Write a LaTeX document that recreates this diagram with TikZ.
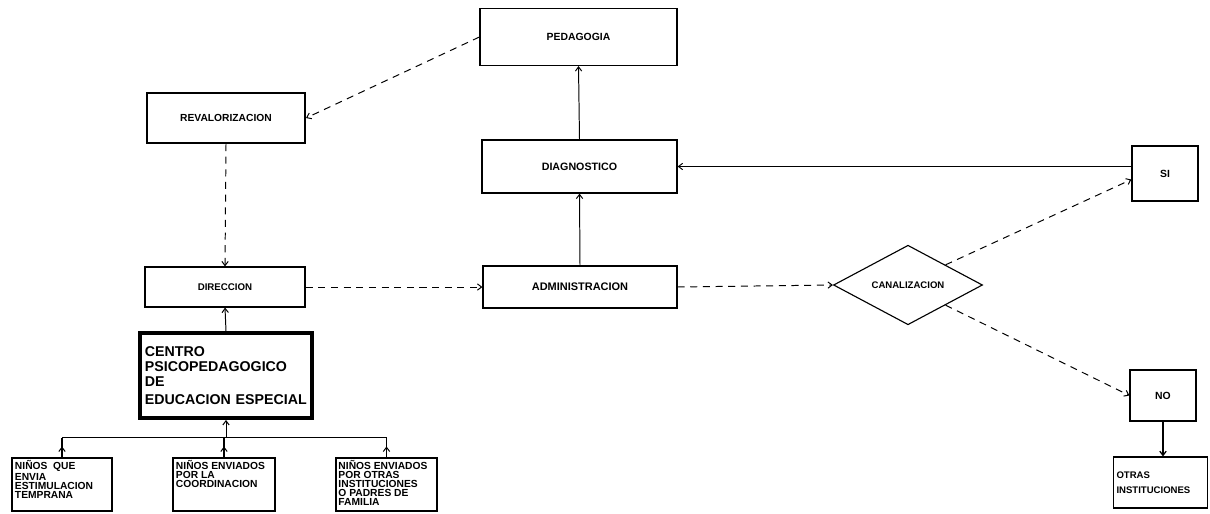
\documentclass[tikz,border=0pt]{standalone}
\usepackage{fontspec}
\setmainfont{Liberation Sans}
\usetikzlibrary{calc,arrows.meta,shapes.geometric}

\begin{document}
\begin{tikzpicture}[>={Straight Barb[length=3pt,width=4.5pt]},x=0.025cm,y=-0.025cm,
  unit/.style={draw,line width=0.8pt,inner sep=2pt,font=\fontsize{#1}{8}\selectfont\bfseries},
  unit/.default=7.4,
  kid/.style={draw,line width=0.8pt,inner sep=1.5pt,font=\fontsize{7.3}{6.4}\selectfont\bfseries},
  flow/.style={->,line width=0.7pt},
  link/.style={->,line width=0.7pt,dash pattern=on 5pt off 4pt}]
  \useasboundingbox (0,0) rectangle (1210,513);
  % left column
  \node[unit=7.3,line width=1.4pt,minimum width=3.95cm,minimum height=1.25cm] (reval) at (226,118) {REVALORIZACION};
  \node[unit=6.9,minimum width=4cm,minimum height=1cm] (dir) at (225,287) {DIRECCION};
  \node[draw,line width=2.8pt,inner xsep=3.5pt,text width=4.05cm,align=left,minimum height=2.125cm,
    font=\fontsize{10.1}{10.8}\selectfont\bfseries] (centro) at (226,375.5)
    {CENTRO\\PSICOPEDAGOGICO\\DE\\[2pt]EDUCACION ESPECIAL};
  % children entering the centre
  \node[kid,minimum width=2.5cm,minimum height=1.325cm] (nino1) at (62,484.5)
    {\parbox[c][1.2cm][t]{2.35cm}{NI\~NOS\ \ QUE\\ENVIA\\ESTIMULACION\\TEMPRANA}};
  \node[kid,minimum width=2.55cm,minimum height=1.325cm] (nino2) at (224,484.5)
    {\parbox[c][1.2cm][t]{2.4cm}{NI\~NOS ENVIADOS\\POR LA\\COORDINACION}};
  \node[kid,minimum width=2.525cm,minimum height=1.325cm] (nino3) at (386.5,484.5)
    {\parbox[c][1.2cm][t]{2.4cm}{NI\~NOS ENVIADOS\\POR OTRAS\\INSTITUCIONES\\O PADRES DE\\FAMILIA}};
  \coordinate (bus) at (226,437.5);
  \draw[line width=0.8pt] (nino1.north |- bus) -- (nino3.north |- bus);
  \foreach \k in {1,2,3} {
    \draw[line width=0.8pt] (nino\k.north) -- (nino\k.north |- bus);
    \draw[flow] (nino\k.north) -- ($(nino\k.north)!0.55!(nino\k.north |- bus)$);
  }
  \draw[flow] (centro.south |- bus) -- (centro.south);
  \draw[flow] (centro.north) -- (dir.south);
  \draw[link] (reval.south) -- (dir.north);
  % middle column
  \node[unit,minimum width=4.925cm,minimum height=1.425cm] (peda) at (578.5,37) {PEDAGOGIA};
  \node[unit=7.6,minimum width=4.875cm,minimum height=1.325cm] (diag) at (579.5,166.5) {DIAGNOSTICO};
  \node[unit=7.8,minimum width=4.85cm,minimum height=1.05cm] (admin) at (580,287) {ADMINISTRACION};
  \draw[flow] (admin.north) -- (diag.south);
  \draw[flow] (diag.north) -- (peda.south);
  \draw[link] (peda.west) -- (reval.east);
  \draw[link] (dir.east) -- (admin.west);
  % right side
  \node[draw,diamond,line width=0.8pt,minimum width=3.725cm,minimum height=1.85cm,inner sep=0pt,
    font=\fontsize{6.8}{8}\selectfont\bfseries] (cana) at (908,285) {CANALIZACION};
  \node[unit,minimum width=1.65cm,minimum height=1.375cm] (si) at (1165,173.5) {SI};
  \node[unit,minimum width=1.65cm,minimum height=1.275cm] (no) at (1163,395.5) {NO};
  \node[unit,align=left,text width=2.2cm,minimum height=1.275cm,
    font=\fontsize{6.8}{11}\selectfont\bfseries] (otras) at (1160.5,482.5) {OTRAS\\INSTITUCIONES};
  \draw[link] (admin.east) -- (cana.west);
  \draw[link] (cana.north east) -- ([yshift=-0.15cm]si.west);
  \draw[link] (cana.south east) -- (no.west);
  \draw[flow] (diag.east -| si.west) -- (diag.east);
  \draw[flow,line width=0.9pt] (no.south) -- (no.south |- otras.north);
\end{tikzpicture}
\end{document}
